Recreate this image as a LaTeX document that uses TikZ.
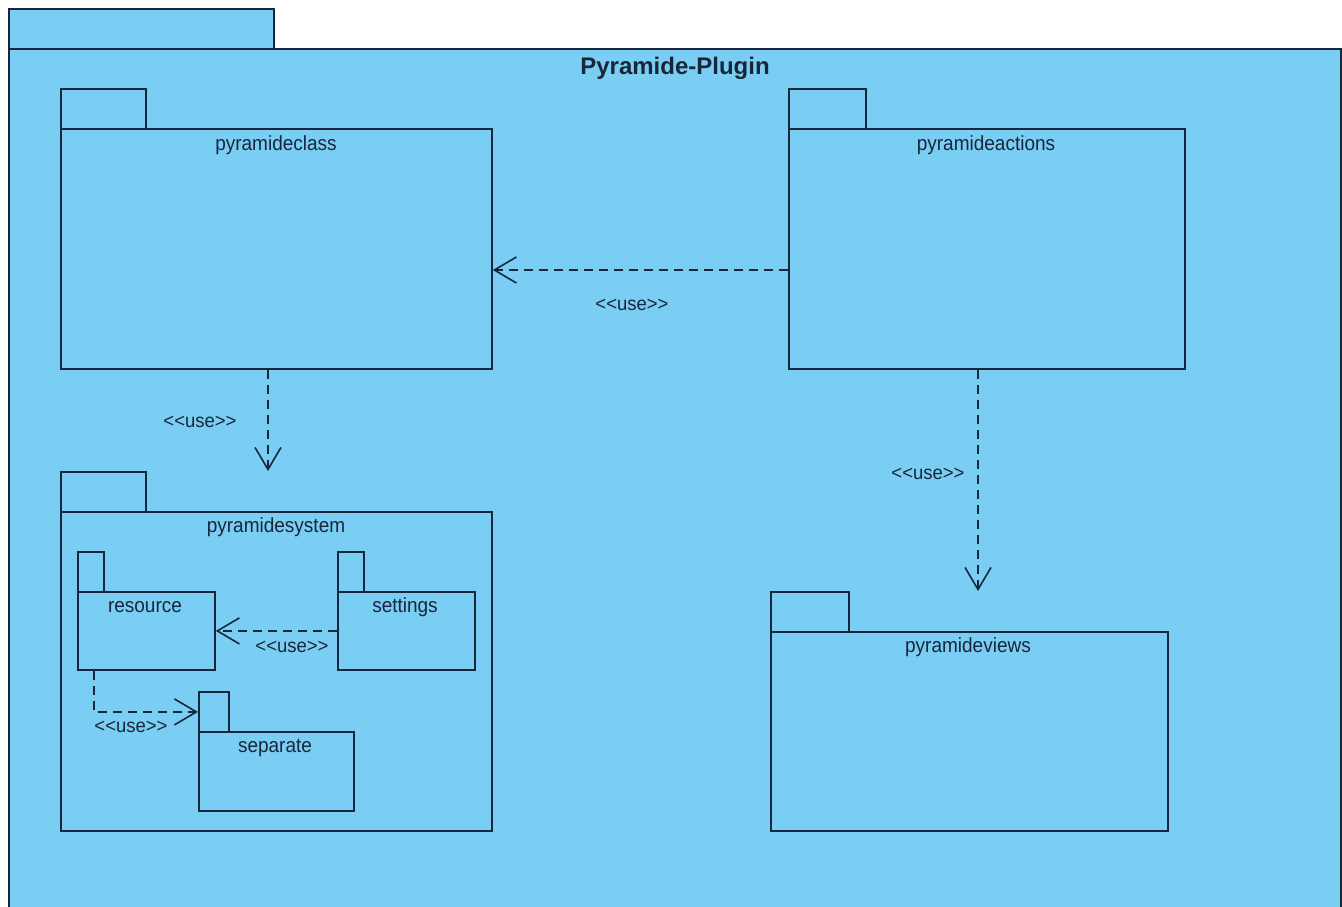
\documentclass[tikz,border=0pt]{standalone}
\usepackage{fontspec}
\setmainfont{Liberation Sans}
\usetikzlibrary{arrows.meta}
\definecolor{pkgfill}{RGB}{122,206,243}
\definecolor{ink}{RGB}{24,38,60}
% stereotype text; the kern keeps the angle brackets from merging
\newcommand{\usetxt}{<\kern0pt<use>\kern0pt>}

\begin{document}
\begin{tikzpicture}[x=1pt,y=-1pt,
  pkg/.style={draw=ink, fill=pkgfill, line width=1.8pt, rectangle,
    inner sep=0pt, anchor=north west},
  pkgname/.style={text=ink, font=\fontsize{19}{21}\selectfont, inner sep=0pt, yscale=1.08},
  pkgtitle/.style={text=ink, font=\bfseries\fontsize{24}{27}\selectfont, inner sep=0pt},
  usedep/.style={draw=ink, line width=1.6pt, dash pattern=on 9pt off 6pt,
    -{Straight Barb[length=22pt,width=26pt,line width=1.6pt]}},
  uselbl/.style={text=ink, font=\fontsize{18.5}{20}\selectfont, inner sep=0pt, yscale=1.05}]

\useasboundingbox (0,0) rectangle (1342,907);
\fill[white] (0,0) rectangle (1342,907);
\clip (0,0) rectangle (1342,907);

% enclosing package
\node[pkg, minimum width=265pt, minimum height=40pt] (plugintab) at (8,8) {};
\node[pkg, minimum width=1332pt, minimum height=880pt] (plugin) at (8,48) {};
\node[pkgtitle] (plugintitle) at (675,68) {Pyramide-Plugin};

% pyramideclass
\node[pkg, minimum width=85pt, minimum height=40pt] (classtab) at (60,88) {};
\node[pkg, minimum width=431pt, minimum height=240pt] (class) at (60,128) {};
\node[pkgname] (classname) at (276,145) {pyramideclass};

% pyramideactions
\node[pkg, minimum width=77pt, minimum height=40pt] (actionstab) at (788,88) {};
\node[pkg, minimum width=396pt, minimum height=240pt] (actions) at (788,128) {};
\node[pkgname] (actionsname) at (986,145) {pyramideactions};

% pyramidesystem
\node[pkg, minimum width=85pt, minimum height=40pt] (systemtab) at (60,471) {};
\node[pkg, minimum width=431pt, minimum height=319pt] (system) at (60,511) {};
\node[pkgname] (systemname) at (276,527) {pyramidesystem};

% pyramideviews
\node[pkg, minimum width=78pt, minimum height=40pt] (viewstab) at (770,591) {};
\node[pkg, minimum width=397pt, minimum height=199pt] (views) at (770,631) {};
\node[pkgname] (viewsname) at (968,647) {pyramideviews};

% nested packages of pyramidesystem
\node[pkg, minimum width=26pt, minimum height=40pt] (resourcetab) at (77,551) {};
\node[pkg, minimum width=137pt, minimum height=78pt] (resource) at (77,591) {};
\node[pkgname] (resourcename) at (145,607) {resource};

\node[pkg, minimum width=26pt, minimum height=40pt] (settingstab) at (337,551) {};
\node[pkg, minimum width=137pt, minimum height=78pt] (settings) at (337,591) {};
\node[pkgname] (settingsname) at (405,607) {settings};

\node[pkg, minimum width=30pt, minimum height=40pt] (separatetab) at (198,691) {};
\node[pkg, minimum width=155pt, minimum height=79pt] (separate) at (198,731) {};
\node[pkgname] (separatename) at (275,748) {separate};

% <<use>> dependencies
\draw[usedep] (actions.west |- 0,270) -- (class.east |- 0,270);
\node[uselbl] (use1) at (632,305) {\usetxt};

\draw[usedep] (class.south -| 268,0) -- (systemtab.north -| 268,0);
\node[uselbl] (use2) at (200,422) {\usetxt};

\draw[usedep] (actions.south -| 978,0) -- (viewstab.north -| 978,0);
\node[uselbl] (use3) at (928,474) {\usetxt};

\draw[usedep] (settings.west) -- (resource.east);
\node[uselbl] (use4) at (292,647) {\usetxt};

\draw[usedep] (resource.south -| 94,0) |- (separatetab.west);
\node[uselbl] (use5) at (131,727) {\usetxt};

\end{tikzpicture}
\end{document}
